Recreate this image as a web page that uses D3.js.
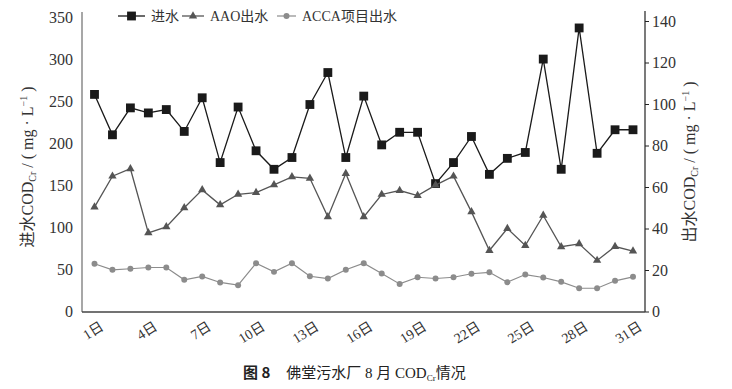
<!DOCTYPE html>
<html>
<head>
<meta charset="utf-8">
<script src="https://cdn.jsdelivr.net/npm/d3@7"></script>
<style>
  body { margin: 0; background: #fff; }
  svg text { font-family: "Liberation Serif", "Noto Sans CJK SC", serif; }
</style>
</head>
<body>
<div id="chart"></div>
<script>
var days = d3.range(1, 32);
var influent = [258, 210, 242, 236, 240, 214, 254, 177, 243, 191, 169, 183, 246, 284, 183, 256,
                198, 213, 213, 152, 177, 208, 163, 182, 189, 300, 169, 337, 188, 216, 216];
var aao = [50.3, 65.2, 68.8, 37.9, 40.8, 50, 58.6, 51.4, 56.5, 57.3, 61, 64.9, 64.2, 45.6, 66.5, 45.6,
           56.4, 58.3, 55.9, 60.9, 65.2, 48, 29.4, 40, 31.8, 46.3, 31.2, 32.6, 24.6, 31.3, 29.1];
var acca = [23, 20.1, 20.6, 21.2, 21.2, 15.3, 16.9, 14, 12.7, 23.3, 19.1, 23.3, 17, 15.9, 20.1, 23.3,
            18.3, 13.3, 16.5, 15.9, 16.5, 18.2, 18.9, 14.1, 17.8, 16.4, 14.3, 11.2, 11.2, 14.8, 16.7];
var leftTicks = [0, 50, 100, 150, 200, 250, 300, 350];
var rightTicks = [0, 20, 40, 60, 80, 100, 120, 140];
var xTickDays = [1, 4, 7, 10, 13, 16, 19, 22, 25, 28, 31];
var legendNames = ["进水", "AAO出水", "ACCA项目出水"];

var width = 732, height = 389;
var serif = "'Liberation Serif', 'Noto Sans CJK SC', serif";

var svg = d3.select("#chart").append("svg")
    .attr("width", width)
    .attr("height", height);

var x = d3.scaleLinear().domain([1, 31]).range([94.5, 633]);
var yL = d3.scaleLinear().domain([0, 350]).range([311.5, 17]);
var yR = d3.scaleLinear().domain([0, 140]).range([311.5, 21]);

// axes
var leftAxis = svg.append("g")
    .attr("transform", "translate(82,0)")
    .call(d3.axisLeft(yL).tickValues(leftTicks).tickSize(0).tickPadding(9));
leftAxis.select(".domain").remove();
leftAxis.append("line")
    .attr("y1", 12).attr("y2", 312)
    .attr("stroke", "#8a8a8a").attr("stroke-width", 1.5);

var rightAxis = svg.append("g")
    .attr("transform", "translate(645,0)")
    .call(d3.axisRight(yR).tickValues(rightTicks).tickSize(4).tickPadding(3));
rightAxis.select(".domain").remove();
rightAxis.append("line")
    .attr("y1", 11).attr("y2", 312)
    .attr("stroke", "#222").attr("stroke-width", 1.2);
rightAxis.selectAll(".tick line").attr("stroke", "#222");

svg.selectAll(".tick text")
    .attr("fill", "#333")
    .style("font-family", serif)
    .style("font-size", "16px");

svg.append("line")
    .attr("x1", 82).attr("x2", 645)
    .attr("y1", 312).attr("y2", 312)
    .attr("stroke", "#444").attr("stroke-width", 1.3);

// x tick labels
svg.selectAll(".xlab")
    .data(xTickDays)
    .enter()
    .append("text")
    .attr("class", "xlab")
    .attr("transform", function (d) {
        return "translate(" + (x(d) + 10) + ",329) rotate(-32)";
    })
    .attr("text-anchor", "end")
    .attr("fill", "#333")
    .style("font-size", "14px")
    .text(function (d) { return d + "日"; });

// axis titles
function axisTitle(tx, ty, label) {
    var t = svg.append("text")
        .attr("transform", "translate(" + tx + "," + ty + ") rotate(-90)")
        .attr("text-anchor", "middle")
        .attr("fill", "#333")
        .style("font-size", "16px");
    t.append("tspan").text(label + "COD");
    t.append("tspan").attr("dy", 3).style("font-size", "10px").text("Cr");
    t.append("tspan").attr("dy", -3).text(" / ( mg · L");
    t.append("tspan").attr("dy", -6).style("font-size", "10px").text("−1");
    t.append("tspan").attr("dy", 6).text(" )");
}
axisTitle(33, 167, "进水");
axisTitle(695, 162, "出水");

// series
var series = [
    { name: legendNames[0], values: influent, y: yL, color: "#1a1a1a", width: 1.3, marker: "square" },
    { name: legendNames[1], values: aao, y: yR, color: "#555", width: 1.3, marker: "triangle" },
    { name: legendNames[2], values: acca, y: yR, color: "#8c8c8c", width: 1.2, marker: "circle" }
];

function markerPath(type) {
    if (type === "square") return d3.symbol().type(d3.symbolSquare).size(78)();
    if (type === "triangle") return d3.symbol().type(d3.symbolTriangle).size(30)();
    return d3.symbol().type(d3.symbolCircle).size(28)();
}

series.forEach(function (s) {
    var line = d3.line()
        .x(function (d, i) { return x(days[i]); })
        .y(function (d) { return s.y(d); });
    svg.append("path")
        .datum(s.values)
        .attr("d", line)
        .attr("fill", "none")
        .attr("stroke", s.color)
        .attr("stroke-width", s.width);
    svg.selectAll(".m-" + s.marker)
        .data(s.values)
        .enter()
        .append("path")
        .attr("class", "m-" + s.marker)
        .attr("d", markerPath(s.marker))
        .attr("transform", function (d, i) {
            return "translate(" + x(days[i]) + "," + s.y(d) + ")";
        })
        .attr("fill", s.color);
});

// legend
var legendX = [118, 182, 277];
var legendLen = [27, 22, 19];
series.forEach(function (s, i) {
    var g = svg.append("g").attr("transform", "translate(" + legendX[i] + ",16)");
    g.append("line")
        .attr("x1", 0).attr("x2", legendLen[i])
        .attr("stroke", s.color).attr("stroke-width", s.width);
    g.append("path")
        .attr("d", markerPath(s.marker))
        .attr("transform", "translate(" + legendLen[i] / 2 + ",0)")
        .attr("fill", s.color);
    g.append("text")
        .attr("x", legendLen[i] + 6)
        .attr("y", 5)
        .attr("fill", "#333")
        .style("font-size", "14px")
        .text(s.name);
});

// caption
var cap = svg.append("text")
    .attr("x", 243)
    .attr("y", 378)
    .attr("fill", "#222")
    .style("font-size", "15px");
cap.append("tspan")
    .style("font-family", "'Noto Sans CJK SC', sans-serif")
    .style("font-weight", "bold")
    .text("图 8");
cap.append("tspan").attr("dx", 16).text("佛堂污水厂 8 月 COD");
cap.append("tspan").attr("dy", 3).style("font-size", "9px").text("Cr");
cap.append("tspan").attr("dy", -3).text("情况");
</script>
</body>
</html>
